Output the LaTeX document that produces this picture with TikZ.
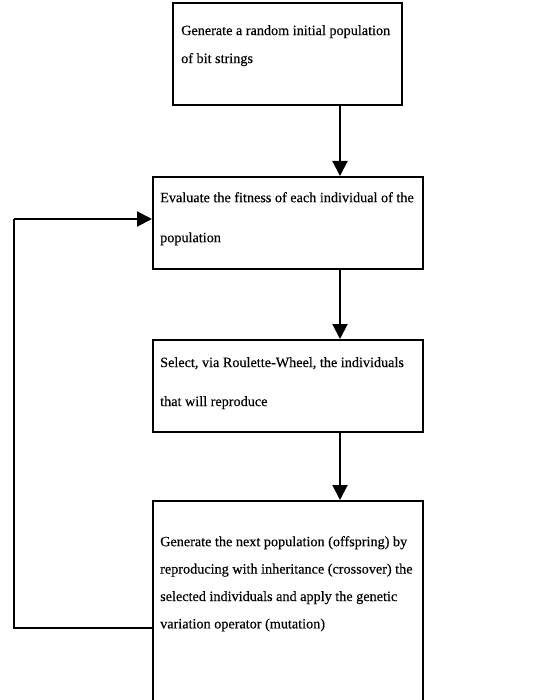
\documentclass[tikz,border=0pt]{standalone}
\usepackage{fontspec}
\setmainfont[FakeBold=0.35,AutoFakeBold=0.35]{Liberation Serif}
\usetikzlibrary{arrows.meta}

\tikzset{
  stepbox/.style={draw, line width=1.6pt, rectangle, inner sep=0pt, anchor=north west},
  steptext/.style={anchor=north west, inner sep=0pt, align=left, font=\fontsize{14.2}{28}\selectfont\bfseries},
  flow/.style={line width=2pt, -{Triangle[length=15pt,width=15pt]}},
  loopline/.style={line width=2pt}
}

\begin{document}
\begin{tikzpicture}[x=1pt,y=-1pt]
  \useasboundingbox (0,0) rectangle (541,700);

  % process boxes
  \node[stepbox, minimum width=229pt, minimum height=102pt] (b1) at (172,2) {};
  \node[stepbox, minimum width=270pt, minimum height=92pt] (b2) at (152,176) {};
  \node[stepbox, minimum width=270pt, minimum height=92pt] (b3) at (152,339) {};
  \node[stepbox, minimum width=270pt, minimum height=240pt] (b4) at (152,500) {};

  % box texts
  \node[steptext] (t1) at (181,25) {Generate a random initial population\\of bit strings};
  \node[steptext, font=\fontsize{14.2}{40}\selectfont\bfseries] (t2) at (160,192) {Evaluate the fitness of each individual of the\\population};
  \node[steptext, font=\fontsize{14.2}{39}\selectfont\bfseries] (t3) at (160,357) {Select, via Roulette-Wheel, the individuals\\that will reproduce};
  \node[steptext, font=\fontsize{14.2}{27.4}\selectfont\bfseries] (t4) at (160,536) {Generate the next population (offspring) by\\reproducing with inheritance (crossover) the\\selected individuals and apply the genetic\\variation operator (mutation)};

  % vertical flow arrows
  \coordinate (ax) at (340,0);
  \draw[flow] (b1.south -| ax) -- (b2.north -| ax);
  \draw[flow] (b2.south -| ax) -- (b3.north -| ax);
  \draw[flow] (b3.south -| ax) -- (b4.north -| ax);

  % feedback loop from the last step back to the evaluation
  \coordinate (lx) at (14,0);
  \coordinate (ly4) at (0,628);
  \coordinate (ly2) at (0,219);
  \draw[loopline] (b4.west |- ly4) -- (lx |- ly4) -- (lx |- ly2);
  \draw[flow] (lx |- ly2) -- (b2.west |- ly2);
\end{tikzpicture}
\end{document}
